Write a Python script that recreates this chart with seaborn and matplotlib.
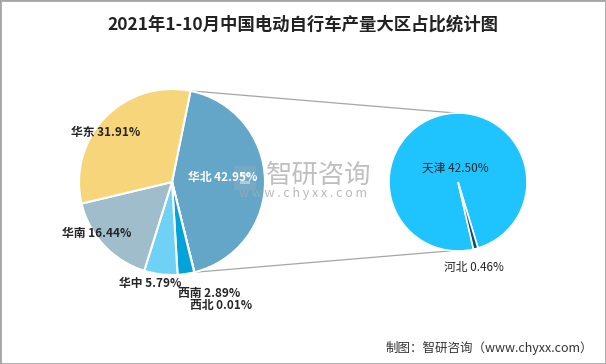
import numpy as np
import matplotlib
matplotlib.use("Agg")
import matplotlib.pyplot as plt
import seaborn as sns
from matplotlib.patches import Rectangle

# ---------------- data ----------------
title = "2021年1-10月中国电动自行车产量大区占比统计图"
regions = ["华北", "西北", "西南", "华中", "华南", "华东"]
region_share = [42.95, 0.01, 2.89, 5.79, 16.44, 31.91]
sub_regions = ["天津", "河北"]
sub_share = [42.50, 0.46]
source = "制图：智研咨询（www.chyxx.com）"

# ---------------- style ----------------
sns.set_theme(style="white")
plt.rcParams['font.family'] = ['Noto Sans CJK SC', 'DejaVu Sans']

W, H = 606, 364
fig = plt.figure(figsize=(6.06, 3.64), dpi=100)
ax = fig.add_axes([0, 0, 1, 1])

main_colors = sns.color_palette(["#63a6c7", "#0b86b8", "#02a3d9", "#70d1f7", "#a0bdcb", "#f7d57b"])
sub_colors = sns.color_palette(["#1fc4ff", "#0c4d6a"])

c1 = (172, H - 182); r1 = 93
c2 = (458, H - 182); r2 = 69

split_angle = 360 * region_share[0] / sum(region_share)
start1 = split_angle / 2 + 1.2
wedges1, _ = ax.pie(region_share, colors=main_colors, startangle=start1, counterclock=False,
                    center=c1, radius=r1, frame=True,
                    wedgeprops=dict(edgecolor='white', linewidth=1.5))
wedges2, _ = ax.pie(sub_share, colors=sub_colors, startangle=-77, counterclock=False,
                    center=c2, radius=r2, frame=True,
                    wedgeprops=dict(edgecolor='white', linewidth=1.2))

ax.set_xlim(0, W)
ax.set_ylim(0, H)
ax.set_aspect('equal')
ax.axis('off')

# connector lines from split slice to secondary pie
w0 = wedges1[0]
for th1, th2 in [(w0.theta2, 92), (w0.theta1, -95)]:
    p1 = (c1[0] + r1 * np.cos(np.radians(th1)), c1[1] + r1 * np.sin(np.radians(th1)))
    p2 = (c2[0] + r2 * np.cos(np.radians(th2)), c2[1] + r2 * np.sin(np.radians(th2)))
    ax.plot([p1[0], p2[0]], [p1[1], p2[1]], color='#a6a6a6', lw=0.9, zorder=0)

# watermark (behind labels)
ax.text(319, H - 175, "智研咨询", ha='center', va='center', fontsize=19, color='#b0b0b0', alpha=0.8, zorder=4)
ax.text(303, H - 194, "w w w . c h y x x . c o m", ha='center', va='center', fontsize=9, color='#a8a8a8', alpha=0.8, zorder=4)
ax.add_patch(Rectangle((234, H - 190), 22, 24, facecolor='#9fb3c4', edgecolor='none', alpha=0.3, zorder=4))
ax.add_patch(Rectangle((240, H - 184), 10, 3, facecolor='white', edgecolor='none', alpha=0.4, zorder=4))
ax.add_patch(Rectangle((240, H - 176), 10, 3, facecolor='white', edgecolor='none', alpha=0.4, zorder=4))

# labels
label_pos = {"华北": (223, 177), "西北": (221, 305), "西南": (209, 293), "华中": (150, 283),
             "华南": (97, 234), "华东": (106, 132)}
for name, val in zip(regions, region_share):
    x, y = label_pos[name]
    col = 'white' if name == "华北" else '#262626'
    ax.text(x, H - y, f"{name} {val:.2f}%", ha='center', va='center', fontsize=8.5,
            fontweight='bold', color=col, zorder=5)

sub_pos = {"天津": (455, 168), "河北": (474, 267)}
for name, val in zip(sub_regions, sub_share):
    x, y = sub_pos[name]
    ax.text(x, H - y, f"{name} {val:.2f}%", ha='center', va='center', fontsize=8.5, color='#262626', zorder=5)

# title & footer
ax.text(W / 2, H - 25, title, ha='center', va='center', fontsize=12.5, fontweight='bold', color='#222222')
ax.text(593, H - 348, source, ha='right', va='center', fontsize=9, color='#333333')

fig.add_artist(Rectangle((0, 0), 1, 1, transform=fig.transFigure, fill=False,
                         edgecolor='#a6a6a6', lw=2))

fig.savefig("out.png", dpi=100)
